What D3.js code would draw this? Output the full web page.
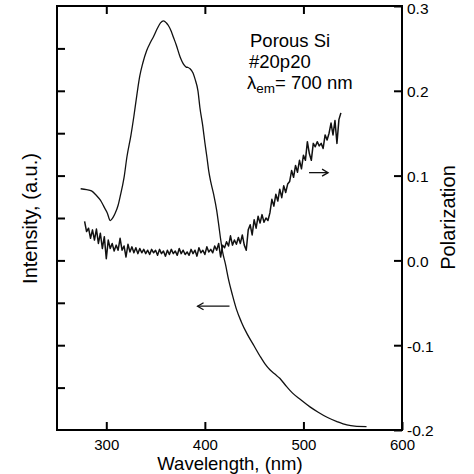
<!DOCTYPE html>
<html>
<head>
<meta charset="utf-8">
<script src="https://cdn.jsdelivr.net/npm/d3@7"></script>
<style>
  html, body { margin: 0; padding: 0; background: #fff; }
  svg { display: block; font-family: "Liberation Sans", Arial, sans-serif; }
</style>
</head>
<body>
<svg id="chart" width="474" height="474"></svg>
<script>
// ---------- DATA ----------
// Excitation intensity spectrum (left axis, a.u.)
const intWavelength = [274,280,285,290,294,298,301,304,307,309,312,314,318,321,325,328,331,334,337,341,345,348,352,355,358,361,363,366,368,371,375,378,381,383,385,388,390,393,395,398,400,402,404,406,409,412,414,416,418,421,424,428,432,437,443,450,456,461,466,471,476,482,489,497,507,515,524,534,544,552,564];
const intValues = [5.69,5.67,5.64,5.53,5.42,5.25,5.12,4.94,5.02,5.11,5.30,5.50,5.95,6.45,6.95,7.40,7.90,8.35,8.65,8.95,9.15,9.28,9.48,9.60,9.65,9.60,9.54,9.40,9.27,9.08,8.79,8.64,8.56,8.55,8.52,8.42,8.28,8.00,7.60,7.15,6.78,6.45,6.10,5.85,5.55,5.18,4.85,4.50,4.20,3.90,3.55,3.18,2.85,2.55,2.26,1.98,1.74,1.56,1.42,1.32,1.22,1.05,0.87,0.72,0.54,0.42,0.30,0.20,0.12,0.09,0.08];

// Polarization (right axis)
const polWavelength = [278,280,282,284,286,288,290,292,294,296,298,300,302,304,306,308,310,312,314,316,318,320,322,324,326,328,330,332,334,336,338,340,342,344,346,348,350,352,354,356,358,360,362,364,366,368,370,372,374,376,378,380,382,384,386,388,390,392,394,396,398,400,402,404,406,408,410,412,414,416,418,420,422,424,426,428,430,432,434,436,438,440,442,444,446,448,450,452,454,456,458,460,462,464,466,468,470,472,474,476,478,480,482,484,486,488,490,492,494,496,498,500,502,504,506,508,510,512,514,516,518,520,522,524,526,528,530,532,534,536,538];
const polValues = [0.046,0.034,0.038,0.026,0.036,0.024,0.037,0.020,0.032,0.014,0.028,0.002,0.024,0.014,0.020,0.011,0.018,0.012,0.026,0.012,0.017,0.004,0.019,0.010,0.016,0.009,0.015,0.008,0.014,0.009,0.013,0.008,0.012,0.007,0.013,0.009,0.012,0.006,0.013,0.008,0.011,0.005,0.012,0.007,0.013,0.008,0.011,0.006,0.014,0.008,0.012,0.007,0.010,0.006,0.013,0.008,0.012,0.005,0.015,0.009,0.012,0.007,0.016,0.010,0.013,0.009,0.017,0.012,0.020,0.004,0.018,0.015,0.022,0.017,0.029,0.018,0.024,0.019,0.027,0.020,0.030,0.018,0.012,0.036,0.042,0.030,0.048,0.038,0.052,0.044,0.054,0.045,0.050,0.047,0.056,0.072,0.064,0.078,0.070,0.084,0.074,0.088,0.080,0.090,0.093,0.106,0.098,0.112,0.104,0.118,0.108,0.124,0.118,0.140,0.126,0.118,0.138,0.134,0.140,0.135,0.138,0.132,0.148,0.142,0.150,0.162,0.148,0.165,0.138,0.166,0.174];

// Axis ticks
const xTicks = [300, 400, 500, 600];
const xInnerTicks = [300, 400, 500];
const rightTicks = [-0.2, -0.1, 0.0, 0.1, 0.2, 0.3];
const leftTicks = [1, 2, 3, 4, 5, 6, 7, 8, 9];

// Annotations
const labelLines = ["Porous Si", "#20p20"];
const arrowIntensity = { from: 425, to: 392.6, value: 2.92 };
const arrowPolar = { from: 505.7, to: 525, value: 0.1035 };

// ---------- CHART ----------
const svg = d3.select("#chart");
const L = 57, R = 402, T = 6, B = 430;

const x = d3.scaleLinear().domain([250, 600]).range([L, R]);
const yL = d3.scaleLinear().domain([0, 10]).range([B, T]);
const yR = d3.scaleLinear().domain([-0.2, 0.3]).range([B, T]);

const TICK = 8;

// bottom axis
const gB = svg.append("g").attr("transform", `translate(0,${B})`)
  .call(d3.axisBottom(x).tickValues(xTicks).tickSize(-TICK).tickPadding(9)
    .tickFormat(d3.format("d")));
// top axis (ticks only)
const gT = svg.append("g").attr("transform", `translate(0,${T})`)
  .call(d3.axisTop(x).tickValues(xInnerTicks).tickSize(-TICK).tickFormat(""));
// left axis (ticks only)
const gL = svg.append("g").attr("transform", `translate(${L},0)`)
  .call(d3.axisLeft(yL).tickValues(leftTicks).tickSize(-TICK).tickFormat(""));
// right axis
const gR = svg.append("g").attr("transform", `translate(${R},0)`)
  .call(d3.axisRight(yR).tickValues(rightTicks).tickSize(-TICK).tickPadding(5)
    .tickFormat(d => d.toFixed(1)));

[gB, gT, gL, gR].forEach(g => {
  g.select(".domain").remove();
  g.selectAll(".tick line").attr("stroke", "#000").attr("stroke-width", 2);
  g.selectAll(".tick text").attr("fill", "#000").attr("font-size", "15.5px")
    .attr("font-family", "Liberation Sans, Arial, sans-serif");
});
gB.selectAll(".tick text").attr("font-size", "15px");
gR.selectAll(".tick text").attr("dy", d => d > 0.25 ? "0.47em" : "0.38em");

// frame
svg.append("rect").attr("x", L).attr("y", T).attr("width", R - L).attr("height", B - T)
  .attr("fill", "none").attr("stroke", "#000").attr("stroke-width", 2);

// intensity curve
const intData = intWavelength.map((w, i) => [w, intValues[i]]);
svg.append("path").datum(intData)
  .attr("fill", "none").attr("stroke", "#111").attr("stroke-width", 1.3)
  .attr("d", d3.line().x(d => x(d[0])).y(d => yL(d[1])).curve(d3.curveMonotoneX));

// polarization curve
const polData = polWavelength.map((w, i) => [w, polValues[i]]);
svg.append("path").datum(polData)
  .attr("fill", "none").attr("stroke", "#111").attr("stroke-width", 1.5)
  .attr("stroke-linejoin", "round")
  .attr("d", d3.line().x(d => x(d[0])).y(d => yR(d[1])));

// arrows
function arrow(x1, x2, y) {
  const dir = Math.sign(x2 - x1);
  const g = svg.append("g").attr("stroke", "#111").attr("stroke-width", 1.3).attr("fill", "none");
  g.append("line").attr("x1", x1).attr("x2", x2).attr("y1", y).attr("y2", y);
  g.append("path").attr("d", `M${x2 - dir * 6},${y - 3.5}L${x2},${y}L${x2 - dir * 6},${y + 3.5}`);
}
arrow(x(arrowIntensity.from), x(arrowIntensity.to), yL(arrowIntensity.value));
arrow(x(arrowPolar.from), x(arrowPolar.to), yR(arrowPolar.value));

// annotation text
const ann = svg.append("g").attr("font-size", "18.5px").attr("fill", "#000");
ann.append("text").attr("x", 250).attr("y", 47).text(labelLines[0]);
ann.append("text").attr("x", 249).attr("y", 68).text(labelLines[1]);
const t3 = ann.append("text").attr("x", 247).attr("y", 89);
t3.append("tspan").text("λ");
t3.append("tspan").attr("font-size", "13.5px").attr("dy", 4).text("em");
t3.append("tspan").attr("dy", -4).text("= 700 nm");

// axis titles
svg.append("text").attr("transform", "translate(37,218.5) rotate(-90)")
  .attr("text-anchor", "middle").attr("font-size", "20px").text("Intensity, (a.u.)");
svg.append("text").attr("transform", "translate(455,217.5) rotate(-90)")
  .attr("text-anchor", "middle").attr("font-size", "20px").text("Polarization");
svg.append("text").attr("x", 230).attr("y", 470)
  .attr("text-anchor", "middle").attr("font-size", "18.5px").text("Wavelength, (nm)");
</script>
</body>
</html>
